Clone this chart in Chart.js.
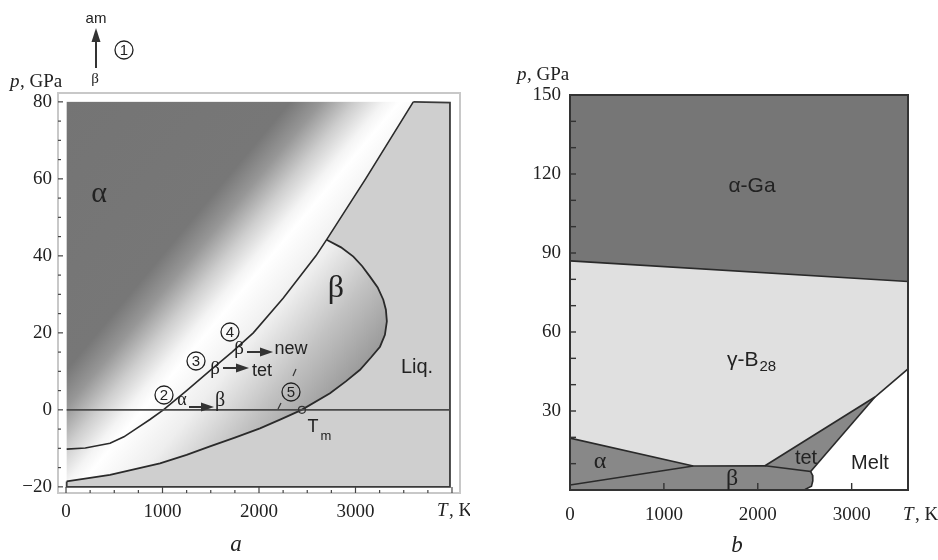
<!DOCTYPE html>
<html>
<head>
<meta charset="utf-8">
<script src="https://cdn.jsdelivr.net/npm/chart.js@4/dist/chart.umd.min.js"></script>
<style>
  html, body { margin: 0; padding: 0; background: #fff; }
  #wrap { position: relative; width: 938px; height: 560px; }
  #chartA { position: absolute; left: 0; top: 0; }
  #chartB { position: absolute; left: 470px; top: 0; }
</style>
</head>
<body>
<div id="wrap">
  <canvas id="chartA" width="470" height="560"></canvas>
  <canvas id="chartB" width="468" height="560"></canvas>
</div>
<script>
// ---- panel a: T in K, p in GPa ----
const alphaBetaT = [7, 200, 456, 600, 732, 870, 1009, 1250, 1492, 1720, 1941, 2250, 2590, 2701, 3105, 3599];
const alphaBetaP = [-10.2, -9.9, -8.7, -7.0, -4.8, -2.5, 0, 5.0, 10.2, 15.0, 20, 29.0, 40, 44.2, 60, 80];
const meltT = [7, 456, 974, 1250, 1492, 1750, 2010, 2230, 2442, 2736, 2900, 3047, 3160, 3254, 3305, 3325, 3315, 3288, 3230, 3150, 3070, 2978, 2850, 2701];
const meltP = [-18.6, -16.9, -13.9, -11.7, -9.5, -7.2, -4.8, -2.4, 0, 4.3, 7.4, 10.4, 13.6, 16.4, 19.5, 23, 26, 28.6, 31.8, 34.6, 37.3, 39.8, 42.2, 44.2];
const liqEdgeT = [3599, 3979, 3979, 7, 7];
const liqEdgeP = [80, 79.8, -20, -20, -18.6];
const zeroLineT = [7, 3979];
const tmPoint = { T: 2445, p: 0 };
const regionTA = [7, 3979];
const regionPA = [-20, 80];

const tempTicksA = [0, 1000, 2000, 3000];
const presTicksA = [-20, 0, 20, 40, 60, 80];
const tempMinorA = [0, 250, 500, 750, 1000, 1250, 1500, 1750, 2000, 2250, 2500, 2750, 3000, 3250, 3500, 3750, 4000];
const presMinorA = [-20, -15, -10, -5, 0, 5, 10, 15, 20, 25, 30, 35, 40, 45, 50, 55, 60, 65, 70, 75, 80];

// ---- panel b ----
const gaBoundT = [0, 3600];
const gaBoundP = [87, 79.2];
const alphaUpperT = [0, 1313];
const alphaUpperP = [19.7, 9.1];
const betaTopT = [0, 1313, 2077, 2563, 2583, 2586, 2572, 2503, 2480];
const betaTopP = [1.9, 9.1, 9.2, 7.0, 5.6, 3.5, 1.4, 0.2, 0];
const tetUpperT = [2077, 3248, 3600];
const tetUpperP = [9.2, 35.3, 46];
const tetLowerT = [2563, 3248];
const tetLowerP = [7.0, 35.3];

const tempTicksB = [0, 1000, 2000, 3000];
const presTicksB = [30, 60, 90, 120, 150];
const tempMarksB = [1000, 2000, 3000];
const presMinorB = [10, 20, 30, 40, 50, 60, 70, 80, 90, 100, 110, 120, 130, 140];

const SERIF = '"Liberation Serif", "DejaVu Serif", serif';
const SANS = '"Liberation Sans", Arial, sans-serif';

const pts = (ts, ps) => ts.map((t, i) => ({ x: t, y: ps[i] }));
const flat = (ts, p) => ts.map(t => ({ x: t, y: p }));

function lineSet(data, color, width, extra) {
  return Object.assign({
    data: data, showLine: true, pointRadius: 0, fill: false,
    borderColor: color, borderWidth: width, tension: 0
  }, extra || {});
}
function polySet(data, color) {
  return {
    data: data, showLine: true, pointRadius: 0, fill: 'shape',
    backgroundColor: color, borderColor: 'rgba(0,0,0,0)', borderWidth: 1, tension: 0
  };
}

function circled(ctx, x, y, s) {
  ctx.beginPath();
  ctx.arc(x, y, 9, 0, Math.PI * 2);
  ctx.lineWidth = 1.3;
  ctx.strokeStyle = '#222';
  ctx.stroke();
  ctx.fillStyle = '#222';
  ctx.font = '15px ' + SANS;
  ctx.textAlign = 'center';
  ctx.textBaseline = 'middle';
  ctx.fillText(s, x, y + 1);
}
function arrowH(ctx, x1, x2, y) {
  ctx.strokeStyle = '#333';
  ctx.fillStyle = '#333';
  ctx.lineWidth = 2;
  ctx.beginPath(); ctx.moveTo(x1, y); ctx.lineTo(x2 - 10, y); ctx.stroke();
  ctx.beginPath(); ctx.moveTo(x2, y); ctx.lineTo(x2 - 13, y - 4.5); ctx.lineTo(x2 - 13, y + 4.5); ctx.closePath(); ctx.fill();
}
function txt(ctx, s, x, y, font, align) {
  ctx.font = font;
  ctx.fillStyle = '#222';
  ctx.textAlign = align || 'center';
  ctx.textBaseline = 'middle';
  ctx.fillText(s, x, y);
  return ctx.measureText(s).width;
}

// background shading of panel a, frame and tick marks
const shadeA = {
  id: 'shadeA',
  beforeDatasetsDraw(chart) {
    const { ctx, chartArea: a, scales: { x, y } } = chart;
    const l = x.getPixelForValue(regionTA[0]), r = x.getPixelForValue(regionTA[1]);
    const t = y.getPixelForValue(regionPA[1]), b = y.getPixelForValue(regionPA[0]);
    const g = ctx.createLinearGradient(x.getPixelForValue(-1275), y.getPixelForValue(43.4),
                                       x.getPixelForValue(1912), y.getPixelForValue(-23.3));
    g.addColorStop(0, '#747474');
    g.addColorStop(0.44, '#777777');
    g.addColorStop(0.50, '#979797');
    g.addColorStop(0.565, '#cecece');
    g.addColorStop(0.62, '#f4f4f4');
    g.addColorStop(0.65, '#ffffff');
    g.addColorStop(0.75, '#eeeeee');
    g.addColorStop(0.875, '#c2c2c2');
    g.addColorStop(1, '#9c9c9c');
    ctx.save();
    ctx.fillStyle = g;
    ctx.fillRect(l, t, r - l, b - t);
    ctx.strokeStyle = '#c8c8c8';
    ctx.lineWidth = 2;
    ctx.strokeRect(a.left, a.top, a.right - a.left, a.bottom - a.top);
    ctx.restore();
  },
  afterDatasetsDraw(chart) {
    const { ctx, chartArea: a, scales: { x, y } } = chart;
    ctx.save();
    ctx.strokeStyle = '#444';
    ctx.lineWidth = 1.2;
    tempMinorA.forEach(v => {
      const px = x.getPixelForValue(v);
      const len = v % 1000 === 0 ? 6 : 3;
      ctx.beginPath(); ctx.moveTo(px, a.bottom); ctx.lineTo(px, a.bottom - len); ctx.stroke();
    });
    presMinorA.forEach(v => {
      const py = y.getPixelForValue(v);
      const len = v % 20 === 0 ? 5 : 3;
      ctx.beginPath(); ctx.moveTo(a.left, py); ctx.lineTo(a.left + len, py); ctx.stroke();
    });

    // labels inside the diagram
    txt(ctx, '\u03b1', 99, 194, '30px ' + SERIF);
    txt(ctx, '\u03b2', 336, 289, '32px ' + SERIF);
    txt(ctx, 'Liq.', 417, 367, '20px ' + SANS);

    circled(ctx, 230, 332, '4');
    txt(ctx, '\u03b2', 239, 349, '19px ' + SERIF);
    arrowH(ctx, 247, 273, 352);
    txt(ctx, 'new', 291, 349, '18px ' + SANS);

    circled(ctx, 196, 361, '3');
    txt(ctx, '\u03b2', 215, 369, '19px ' + SERIF);
    arrowH(ctx, 223, 249, 368);
    txt(ctx, 'tet', 262, 371, '18px ' + SANS);

    circled(ctx, 164, 395, '2');
    txt(ctx, '\u03b1', 182, 400, '18px ' + SERIF);
    arrowH(ctx, 189, 214, 407);
    txt(ctx, '\u03b2', 220, 401, '20px ' + SERIF);

    circled(ctx, 291, 392, '5');
    ctx.strokeStyle = '#333';
    ctx.lineWidth = 1.2;
    ctx.beginPath(); ctx.moveTo(296, 369); ctx.lineTo(293, 376); ctx.stroke();
    ctx.beginPath(); ctx.moveTo(281, 403); ctx.lineTo(278, 409); ctx.stroke();

    txt(ctx, 'T', 313, 427, '18px ' + SANS);
    txt(ctx, 'm', 326, 436, '13px ' + SANS);

    // text outside the frame
    txt(ctx, 'am', 96, 19, '15px ' + SANS);
    ctx.strokeStyle = '#333'; ctx.fillStyle = '#333'; ctx.lineWidth = 2;
    ctx.beginPath(); ctx.moveTo(96, 68); ctx.lineTo(96, 40); ctx.stroke();
    ctx.beginPath(); ctx.moveTo(96, 28); ctx.lineTo(91.5, 42); ctx.lineTo(100.5, 42); ctx.closePath(); ctx.fill();
    circled(ctx, 124, 50, '1');
    txt(ctx, 'p', 10, 82, 'italic 19px ' + SERIF, 'left');
    txt(ctx, ', GPa', 20, 82, '19px ' + SERIF, 'left');
    txt(ctx, '\u03b2', 95, 79, '15px ' + SERIF);
    txt(ctx, 'T', 437, 511, 'italic 19px ' + SERIF, 'left');
    txt(ctx, ', K', 449, 511, '19px ' + SERIF, 'left');
    txt(ctx, 'a', 236, 545, 'italic 23px ' + SERIF);
    ctx.restore();
  }
};

// frame, ticks and labels of panel b
const decorB = {
  id: 'decorB',
  afterDatasetsDraw(chart) {
    const { ctx, chartArea: a, scales: { x, y } } = chart;
    ctx.save();
    ctx.strokeStyle = '#333';
    ctx.lineWidth = 1.4;
    presMinorB.forEach(v => {
      const py = y.getPixelForValue(v);
      ctx.beginPath(); ctx.moveTo(a.left, py); ctx.lineTo(a.left + 6, py); ctx.stroke();
    });
    tempMarksB.forEach(v => {
      const px = x.getPixelForValue(v);
      ctx.beginPath(); ctx.moveTo(px, a.bottom); ctx.lineTo(px, a.bottom - 7); ctx.stroke();
    });
    ctx.lineWidth = 2;
    ctx.strokeRect(a.left, a.top, a.right - a.left, a.bottom - a.top);

    txt(ctx, '\u03b1-Ga', 282, 186, '21px ' + SANS);
    const w = txt(ctx, '\u03b3-B', 257, 360, '21px ' + SANS, 'left');
    txt(ctx, '28', 257 + w + 1, 367, '15px ' + SANS, 'left');
    txt(ctx, '\u03b1', 130, 462, '24px ' + SERIF);
    txt(ctx, '\u03b2', 262, 479, '24px ' + SERIF);
    txt(ctx, 'tet', 336, 458, '20px ' + SANS);
    txt(ctx, 'Melt', 400, 463, '20px ' + SANS);

    txt(ctx, 'p', 47, 75, 'italic 19px ' + SERIF, 'left');
    txt(ctx, ', GPa', 57, 75, '19px ' + SERIF, 'left');
    txt(ctx, 'T', 433, 515, 'italic 19px ' + SERIF, 'left');
    txt(ctx, ', K', 445, 515, '19px ' + SERIF, 'left');
    txt(ctx, 'b', 267, 546, 'italic 23px ' + SERIF);
    ctx.restore();
  }
};

const tickFont = { family: SERIF, size: 19 };
const numLabel = v => (v < 0 ? '\u2212' + Math.abs(v) : String(v));

function axes(xr, yr, xt, yt, xh, yw, xpad, ypad) {
  return {
    x: {
      type: 'linear', min: xr[0], max: xr[1],
      afterBuildTicks: s => { s.ticks = xt.map(v => ({ value: v })); },
      afterFit: s => { s.height = xh; },
      grid: { display: false, drawTicks: false }, border: { display: false },
      ticks: { font: tickFont, color: '#222', padding: xpad, maxRotation: 0, autoSkip: false, callback: numLabel }
    },
    y: {
      type: 'linear', min: yr[0], max: yr[1],
      afterBuildTicks: s => { s.ticks = yt.map(v => ({ value: v })); },
      afterFit: s => { s.width = yw; },
      grid: { display: false, drawTicks: false }, border: { display: false },
      ticks: { font: tickFont, color: '#222', padding: ypad, autoSkip: false, callback: numLabel }
    }
  };
}

const baseOpts = {
  responsive: false, animation: false, devicePixelRatio: 1,
  plugins: { legend: { display: false }, tooltip: { enabled: false } }
};

// liquid region of panel a: melting curve, upper part of the alpha/beta line, frame edge
const liquidPoly = pts(meltT, meltP)
  .concat(pts(alphaBetaT, alphaBetaP).filter(q => q.x > 2701 || q.y > 44.2))
  .concat(pts(liqEdgeT, liqEdgeP).slice(1));

// datasets are listed top-most first
new Chart(document.getElementById('chartA'), {
  type: 'scatter',
  data: {
    datasets: [
      { data: [{ x: tmPoint.T, y: tmPoint.p }], pointRadius: 3.5, pointBorderWidth: 1.2,
        pointBorderColor: '#333', pointBackgroundColor: 'rgba(0,0,0,0)' },
      lineSet(flat(zeroLineT, 0), '#4a4a4a', 1.6),
      lineSet(pts(alphaBetaT, alphaBetaP), '#2a2a2a', 1.6),
      lineSet(pts(meltT, meltP), '#2a2a2a', 1.8),
      lineSet(pts(liqEdgeT, liqEdgeP), '#3a3a3a', 1.8),
      polySet(liquidPoly, '#cfcfcf')
    ]
  },
  options: Object.assign({}, baseOpts, {
    layout: { padding: { top: 93, right: 10, left: 0, bottom: 0 } },
    scales: axes([-83, 4083], [-21.6, 82.3], tempTicksA, presTicksA, 67, 58, 8, 6)
  }),
  plugins: [shadeA]
});

// polygons of panel b
const gammaPoly = [{ x: 0, y: 0 }].concat(pts(gaBoundT, gaBoundP), [{ x: 3600, y: 0 }]);
const gaPoly = pts(gaBoundT, gaBoundP).concat([{ x: 3600, y: 150 }, { x: 0, y: 150 }]);
const alphaPoly = pts(alphaUpperT, alphaUpperP).concat([{ x: 0, y: betaTopP[0] }]);
const betaPoly = pts(betaTopT, betaTopP).concat([{ x: 0, y: 0 }]);
const tetPoly = pts(tetUpperT.slice(0, 2), tetUpperP.slice(0, 2)).concat(pts(tetLowerT, tetLowerP).reverse());
const meltPoly = pts(betaTopT.slice(3), betaTopP.slice(3)).reverse()
  .concat(pts(tetUpperT.slice(1), tetUpperP.slice(1)), [{ x: 3600, y: 0 }]);

new Chart(document.getElementById('chartB'), {
  type: 'scatter',
  data: {
    datasets: [
      lineSet(pts(gaBoundT, gaBoundP), '#2a2a2a', 1.6),
      lineSet(pts(alphaUpperT, alphaUpperP), '#2a2a2a', 1.6),
      lineSet(pts(betaTopT, betaTopP), '#2a2a2a', 1.6),
      lineSet(pts(tetUpperT, tetUpperP), '#2a2a2a', 1.6),
      lineSet(pts(tetLowerT, tetLowerP), '#2a2a2a', 1.6),
      polySet(alphaPoly, '#888888'),
      polySet(betaPoly, '#888888'),
      polySet(tetPoly, '#888888'),
      polySet(meltPoly, '#ffffff'),
      polySet(gaPoly, '#767676'),
      polySet(gammaPoly, '#e0e0e0')
    ]
  },
  options: Object.assign({}, baseOpts, {
    layout: { padding: { top: 95, right: 30, left: 0, bottom: 0 } },
    scales: axes([0, 3600], [0, 150], tempTicksB, presTicksB, 70, 100, 14, 9)
  }),
  plugins: [decorB]
});
</script>
</body>
</html>
